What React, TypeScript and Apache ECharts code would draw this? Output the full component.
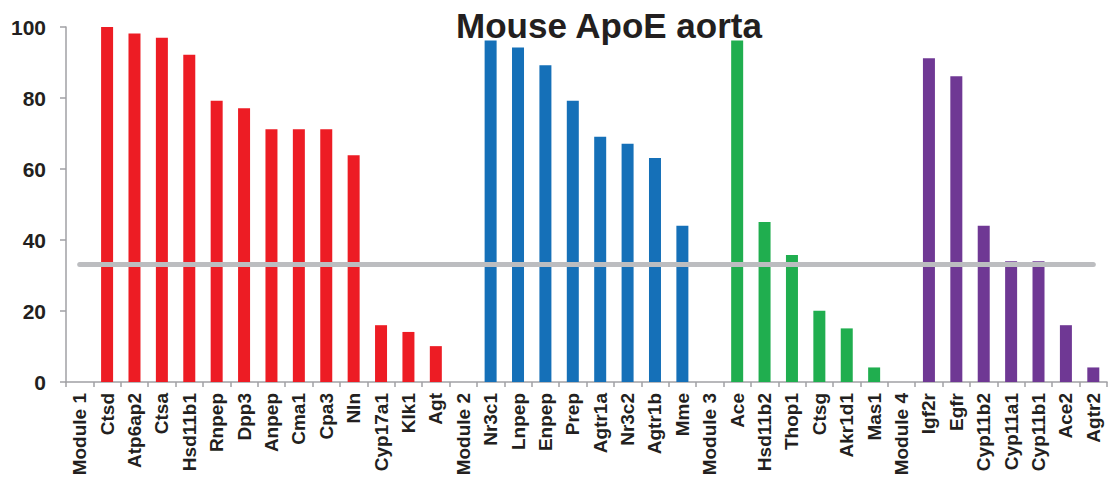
import React, { useEffect, useRef } from "react";
import * as echarts from "echarts";

const categories = [
  "Module 1", "Ctsd", "Atp6ap2", "Ctsa", "Hsd11b1", "Rnpep", "Dpp3", "Anpep", "Cma1", "Cpa3", "Nln", "Cyp17a1", "Klk1", "Agt",
  "Module 2", "Nr3c1", "Lnpep", "Enpep", "Prep", "Agtr1a", "Nr3c2", "Agtr1b", "Mme",
  "Module 3", "Ace", "Hsd11b2", "Thop1", "Ctsg", "Akr1d1", "Mas1",
  "Module 4", "Igf2r", "Egfr", "Cyp11b2", "Cyp11a1", "Cyp11b1", "Ace2", "Agtr2",
];

const values = [
  0, 100, 98.2, 97.0, 92.2, 79.2, 77.1, 71.2, 71.2, 71.2, 63.9, 16.0, 14.1, 10.1,
  0, 96.2, 94.2, 89.2, 79.2, 69.1, 67.1, 63.1, 44.0,
  0, 96.2, 45.1, 35.8, 20.1, 15.1, 4.1,
  0, 91.2, 86.1, 44.0, 34.0, 34.0, 16.0, 4.1,
];

// module index (0..3) of each category
const moduleIndex = [
  0, 0, 0, 0, 0, 0, 0, 0, 0, 0, 0, 0, 0, 0,
  1, 1, 1, 1, 1, 1, 1, 1, 1,
  2, 2, 2, 2, 2, 2, 2,
  3, 3, 3, 3, 3, 3, 3, 3,
];

const moduleColors = ["#ed1c24", "#1570b8", "#20ae4f", "#6f3894"];

const thresholdValue = 33.3;
const yTicks = [0, 20, 40, 60, 80, 100];

export default function App() {
  const ref = useRef<HTMLDivElement>(null);
  useEffect(() => {
    document.body.style.margin = "0";
    const chart = echarts.init(ref.current!, null, { renderer: "svg" });
    chart.setOption({
      animation: false,
      backgroundColor: "#ffffff",
      title: {
        text: "Mouse ApoE aorta",
        left: 451,
        top: 3,
        textStyle: {
          fontFamily: "Liberation Sans, Arial, sans-serif",
          fontWeight: "bold",
          fontSize: 35,
          color: "#231f20",
        },
      },
      grid: { left: 66, right: 1, top: 27, bottom: 101, containLabel: false },
      xAxis: {
        type: "category",
        data: categories,
        axisLine: { lineStyle: { color: "#a0a0a4", width: 1.5 } },
        axisTick: { show: true, length: 5, lineStyle: { color: "#a0a0a4", width: 1.5 } },
        axisLabel: {
          rotate: 90,
          interval: 0,
          margin: 11,
          fontFamily: "Liberation Sans, Arial, sans-serif",
          fontWeight: "bold",
          fontSize: 19,
          color: "#231f20",
        },
      },
      yAxis: {
        type: "value",
        min: yTicks[0],
        max: yTicks[yTicks.length - 1],
        interval: 20,
        splitLine: { show: false },
        axisLine: { show: true, lineStyle: { color: "#a0a0a4", width: 1.5 } },
        axisTick: { show: true, length: 6, lineStyle: { color: "#a0a0a4", width: 1.5 } },
        axisLabel: {
          margin: 20,
          fontFamily: "Liberation Sans, Arial, sans-serif",
          fontWeight: "bold",
          fontSize: 21,
          color: "#231f20",
        },
      },
      series: [
        {
          type: "bar",
          barWidth: 12,
          data: values.map((v, i) => ({
            value: v,
            itemStyle: { color: moduleColors[moduleIndex[i]] },
          })),
          markLine: {
            silent: true,
            symbol: "none",
            label: { show: false },
            lineStyle: { color: "#bcbdc0", width: 5, type: "solid", cap: "round" },
            data: [
              [
                { coord: [categories[0], thresholdValue] },
                { coord: [categories[categories.length - 1], thresholdValue] },
              ],
            ],
          },
        },
      ],
    });
    return () => chart.dispose();
  }, []);
  return <div ref={ref} style={{ width: 1108, height: 483 }} />;
}
